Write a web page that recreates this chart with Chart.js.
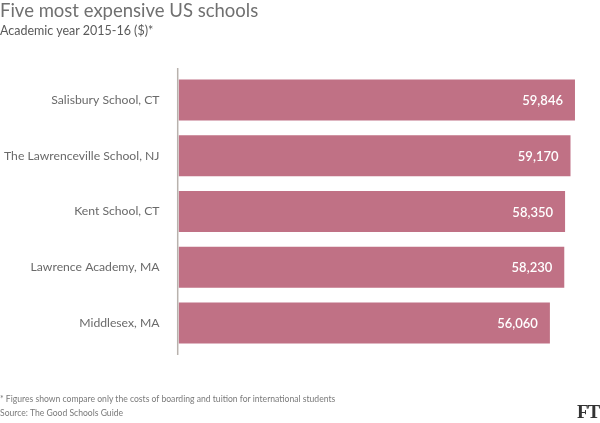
<!DOCTYPE html>
<html><head><meta charset="utf-8">
<script src="https://cdn.jsdelivr.net/npm/chart.js@4/dist/chart.umd.min.js"></script>
<style>
html,body{margin:0;padding:0;background:#fff;}
#wrap{position:relative;width:600px;height:423px;overflow:hidden;font-family:Lato,"Open Sans",sans-serif;}
#c{position:absolute;left:0;top:0;}
.t{position:absolute;white-space:nowrap;}
#title{left:0;top:-1px;font-size:18.5px;color:#707070;}
#sub{left:0;top:23px;font-size:12.5px;color:#5a5a5a;}
#note{left:0;top:394px;font-size:8.6px;color:#7a7a7a;}
#src{left:0;top:408px;font-size:8.6px;color:#7a7a7a;}
#ft{left:577px;top:401px;font-family:"Liberation Serif",serif;font-weight:bold;font-size:19px;color:#333;letter-spacing:-1px;}
</style></head>
<body><div id="wrap">
<canvas id="c" width="600" height="423"></canvas>
<div class="t" id="title">Five most expensive US schools</div>
<div class="t" id="sub">Academic year 2015-16 ($)*</div>
<div class="t" id="note">* Figures shown compare only the costs of boarding and tuition for international students</div>
<div class="t" id="src">Source: The Good Schools Guide</div>
<div class="t" id="ft">FT</div>
</div>
<script>
const schools = ["Salisbury School, CT","The Lawrenceville School, NJ","Kent School, CT","Lawrence Academy, MA","Middlesex, MA"];
const costs = [59846, 59170, 58350, 58230, 56060];

const axisLine = {
  id:'axisLine',
  afterDatasetsDraw(chart){
    const {ctx, chartArea} = chart;
    ctx.save();
    ctx.strokeStyle = '#b8b2ad';
    ctx.lineWidth = 1.5;
    ctx.beginPath();
    ctx.moveTo(chartArea.left - 0.8, chartArea.top - 4);
    ctx.lineTo(chartArea.left - 0.8, chartArea.bottom + 4);
    ctx.stroke();
    ctx.restore();
  }
};
const valueLabels = {
  id:'valueLabels',
  afterDatasetsDraw(chart){
    const {ctx} = chart;
    const meta = chart.getDatasetMeta(0);
    ctx.save();
    ctx.fillStyle = '#ffffff';
    ctx.font = '600 13px Lato, "Open Sans", sans-serif';
    ctx.textAlign = 'right';
    ctx.textBaseline = 'middle';
    meta.data.forEach((bar, i) => {
      ctx.fillText(costs[i].toLocaleString('en-US'), bar.x - 12, bar.y + 1);
    });
    ctx.restore();
  }
};

new Chart(document.getElementById('c'), {
  type:'bar',
  data:{labels:schools, datasets:[{data:costs, backgroundColor:'#c07185', borderWidth:0, categoryPercentage:1, barPercentage:0.735}]},
  options:{
    indexAxis:'y', responsive:false, animation:false, devicePixelRatio:1,
    layout:{padding:{top:72, bottom:72, left:0, right:24}},
    plugins:{legend:{display:false}, tooltip:{enabled:false}},
    scales:{
      x:{display:false, min:0, max:60000},
      y:{
        grid:{display:false, drawTicks:false}, border:{display:false},
        ticks:{color:'#6a6a6a', font:{family:'Lato, "Open Sans", sans-serif', size:12.2}, padding:19},
        afterFit(s){ s.width = 178.5; }
      }
    }
  },
  plugins:[axisLine, valueLabels]
});
</script>
</body></html>
